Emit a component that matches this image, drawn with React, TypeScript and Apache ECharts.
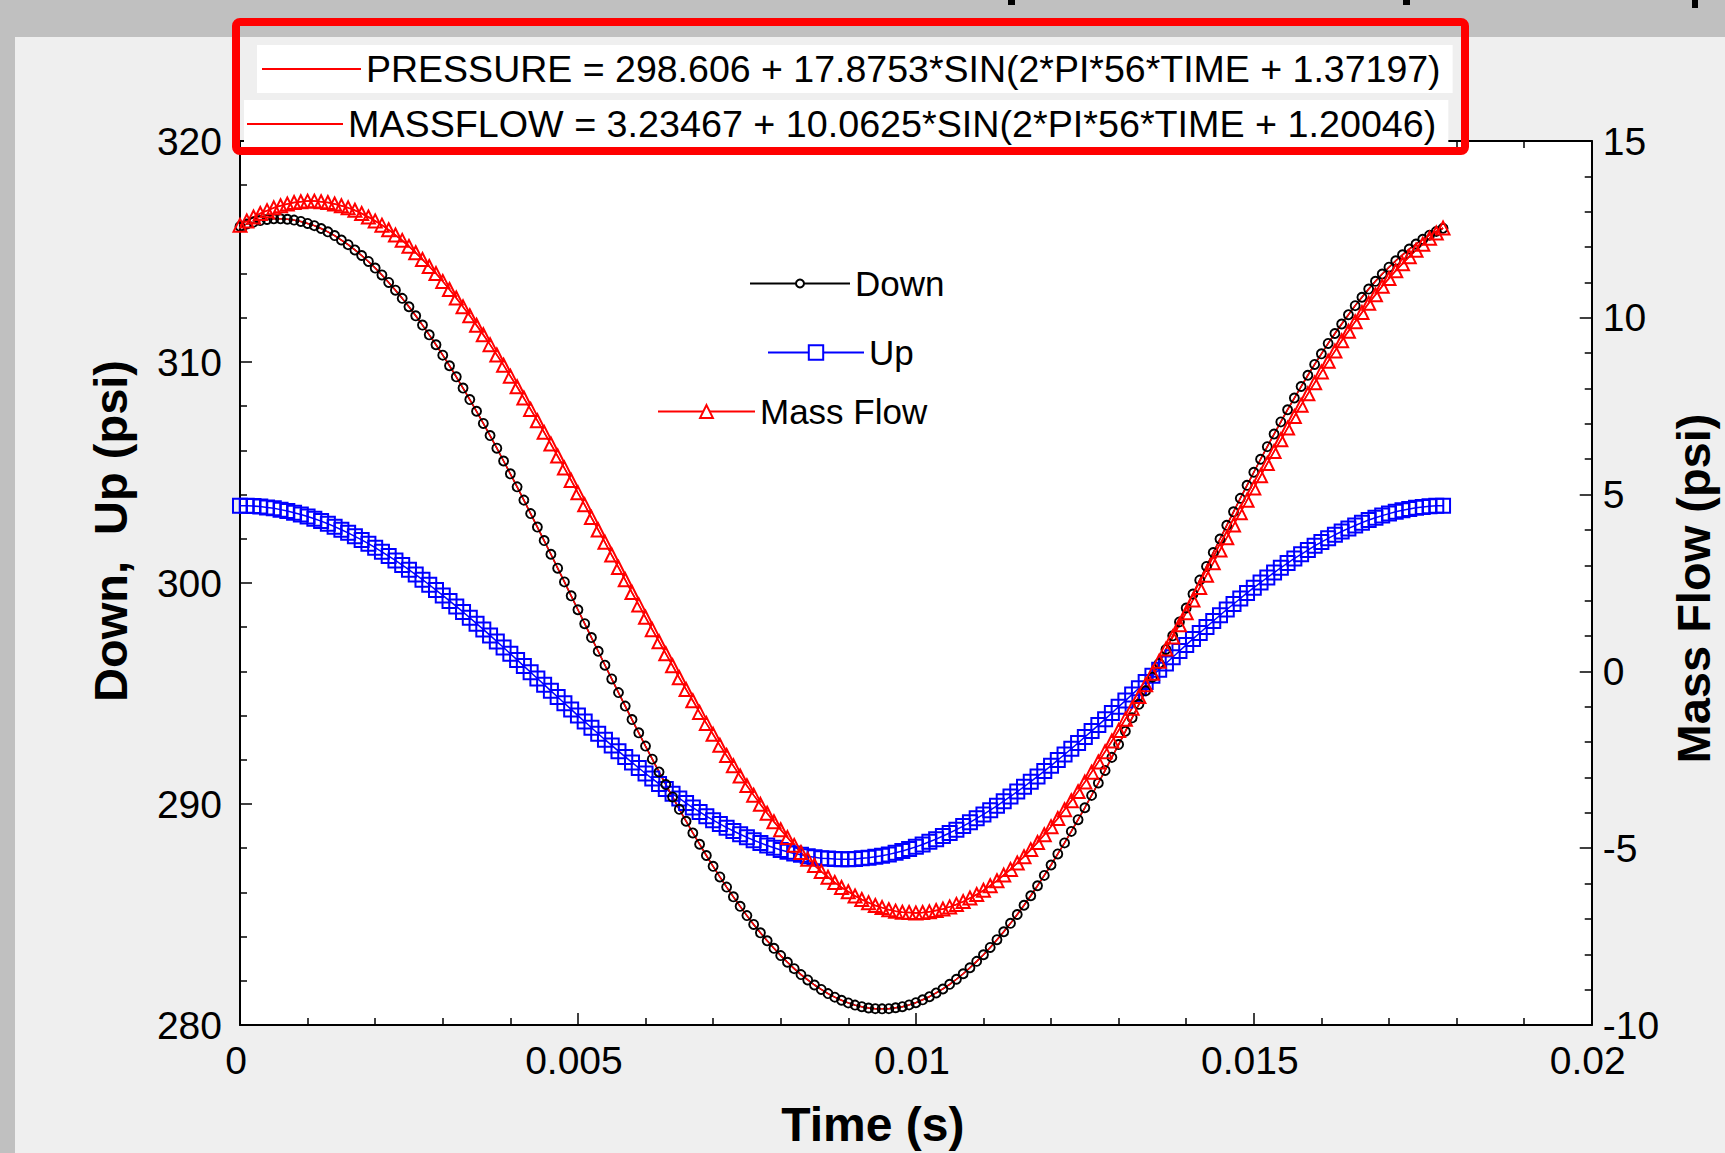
import React, { useEffect, useRef } from 'react';
import * as echarts from 'echarts';

// ---- data ----
const timeStepS = 0.0001; // sampling step of the measured points (s)

const downPsi = [
  316.13, 316.24, 316.33, 316.40, 316.45, 316.48, 316.48, 316.46, 316.42, 316.36,
  316.27, 316.17, 316.04, 315.89, 315.72, 315.52, 315.31, 315.07, 314.82, 314.55,
  314.25, 313.94, 313.60, 313.25, 312.88, 312.50, 312.09, 311.67, 311.23, 310.78,
  310.31, 309.83, 309.33, 308.82, 308.30, 307.77, 307.22, 306.67, 306.10, 305.52,
  304.94, 304.35, 303.75, 303.14, 302.53, 301.92, 301.30, 300.67, 300.05, 299.42,
  298.79, 298.16, 297.53, 296.91, 296.28, 295.66, 295.04, 294.43, 293.82, 293.22,
  292.62, 292.03, 291.45, 290.88, 290.32, 289.76, 289.22, 288.69, 288.18, 287.67,
  287.18, 286.70, 286.24, 285.80, 285.37, 284.95, 284.55, 284.17, 283.81, 283.47,
  283.14, 282.84, 282.55, 282.28, 282.04, 281.81, 281.61, 281.42, 281.26, 281.12,
  281.00, 280.90, 280.83, 280.77, 280.74, 280.73, 280.74, 280.78, 280.83, 280.91,
  281.01, 281.14, 281.28, 281.45, 281.63, 281.84, 282.07, 282.32, 282.59, 282.88,
  283.18, 283.51, 283.86, 284.22, 284.60, 285.00, 285.42, 285.85, 286.30, 286.77,
  287.24, 287.74, 288.24, 288.76, 289.29, 289.83, 290.39, 290.95, 291.52, 292.11,
  292.69, 293.29, 293.90, 294.51, 295.12, 295.74, 296.36, 296.99, 297.61, 298.24,
  298.87, 299.50, 300.13, 300.75, 301.38, 301.99, 302.61, 303.22, 303.83, 304.42,
  305.01, 305.60, 306.17, 306.74, 307.29, 307.84, 308.37, 308.89, 309.40, 309.89,
  310.37, 310.84, 311.29, 311.72, 312.14, 312.55, 312.93, 313.30, 313.65, 313.98,
  314.29, 314.58, 314.85, 315.11, 315.34, 315.55, 315.74, 315.91, 316.05,
];

const upPsi = [
  303.50, 303.50, 303.48, 303.46, 303.42, 303.38, 303.32, 303.26, 303.18, 303.10,
  303.01, 302.91, 302.80, 302.68, 302.55, 302.41, 302.27, 302.11, 301.95, 301.78,
  301.60, 301.41, 301.22, 301.02, 300.81, 300.60, 300.38, 300.15, 299.92, 299.68,
  299.44, 299.19, 298.94, 298.69, 298.43, 298.16, 297.90, 297.63, 297.35, 297.08,
  296.80, 296.52, 296.24, 295.96, 295.68, 295.40, 295.12, 294.84, 294.56, 294.28,
  294.00, 293.73, 293.45, 293.18, 292.91, 292.65, 292.39, 292.13, 291.88, 291.63,
  291.38, 291.15, 290.91, 290.68, 290.46, 290.25, 290.04, 289.84, 289.64, 289.45,
  289.27, 289.10, 288.93, 288.78, 288.63, 288.49, 288.36, 288.24, 288.12, 288.02,
  287.92, 287.84, 287.76, 287.70, 287.64, 287.59, 287.55, 287.53, 287.51, 287.50,
  287.50, 287.51, 287.54, 287.57, 287.61, 287.66, 287.72, 287.79, 287.87, 287.96,
  288.06, 288.17, 288.29, 288.41, 288.55, 288.69, 288.84, 289.00, 289.17, 289.35,
  289.53, 289.72, 289.92, 290.13, 290.34, 290.56, 290.78, 291.01, 291.25, 291.49,
  291.73, 291.99, 292.24, 292.50, 292.76, 293.03, 293.30, 293.57, 293.84, 294.12,
  294.40, 294.68, 294.96, 295.24, 295.52, 295.80, 296.08, 296.36, 296.64, 296.92,
  297.20, 297.47, 297.74, 298.01, 298.28, 298.54, 298.80, 299.05, 299.30, 299.55,
  299.79, 300.02, 300.25, 300.47, 300.69, 300.90, 301.11, 301.30, 301.49, 301.68,
  301.85, 302.02, 302.18, 302.33, 302.47, 302.60, 302.73, 302.85, 302.95, 303.05,
  303.14, 303.22, 303.29, 303.35, 303.40, 303.44, 303.47, 303.49, 303.50,
];

const massFlowPsi = [
  12.62, 12.74, 12.85, 12.95, 13.03, 13.11, 13.17, 13.22, 13.26, 13.28,
  13.30, 13.30, 13.28, 13.26, 13.22, 13.17, 13.11, 13.04, 12.95, 12.85,
  12.74, 12.62, 12.49, 12.34, 12.19, 12.02, 11.84, 11.65, 11.45, 11.25,
  11.03, 10.80, 10.56, 10.31, 10.06, 9.79, 9.52, 9.24, 8.95, 8.66,
  8.35, 8.05, 7.73, 7.41, 7.09, 6.76, 6.43, 6.09, 5.75, 5.40,
  5.05, 4.71, 4.35, 4.00, 3.65, 3.29, 2.94, 2.59, 2.23, 1.88,
  1.53, 1.18, 0.84, 0.50, 0.16, -0.18, -0.51, -0.83, -1.16, -1.47,
  -1.78, -2.09, -2.38, -2.67, -2.96, -3.23, -3.50, -3.76, -4.01, -4.25,
  -4.48, -4.70, -4.92, -5.12, -5.31, -5.49, -5.66, -5.82, -5.97, -6.11,
  -6.23, -6.35, -6.45, -6.54, -6.62, -6.68, -6.74, -6.78, -6.81, -6.82,
  -6.83, -6.82, -6.80, -6.76, -6.72, -6.66, -6.59, -6.51, -6.41, -6.31,
  -6.19, -6.06, -5.92, -5.76, -5.60, -5.42, -5.24, -5.04, -4.84, -4.62,
  -4.39, -4.16, -3.91, -3.66, -3.40, -3.13, -2.85, -2.56, -2.27, -1.97,
  -1.67, -1.35, -1.04, -0.71, -0.38, -0.05, 0.29, 0.63, 0.97, 1.32,
  1.66, 2.02, 2.37, 2.72, 3.07, 3.43, 3.78, 4.14, 4.49, 4.84,
  5.19, 5.53, 5.88, 6.22, 6.55, 6.88, 7.21, 7.53, 7.85, 8.16,
  8.47, 8.77, 9.06, 9.35, 9.62, 9.89, 10.15, 10.41, 10.65, 10.89,
  11.11, 11.33, 11.53, 11.73, 11.91, 12.08, 12.25, 12.40, 12.54,
];

const xTicks = { min: 0, max: 0.02, interval: 0.005 };
const leftTicks = { min: 280, max: 320, interval: 10 };
const rightTicks = { min: -10, max: 15, interval: 5 };

const pressureFitName = 'PRESSURE = 298.606 + 17.8753*SIN(2*PI*56*TIME + 1.37197)';
const massFlowFitName = 'MASSFLOW = 3.23467 + 10.0625*SIN(2*PI*56*TIME + 1.20046)';
const leftAxisTitle = 'Down,  Up (psi)';
const rightAxisTitle = 'Mass Flow (psi)';
const xAxisTitle = 'Time (s)';

const FONT = '"Liberation Sans", Arial, Helvetica, sans-serif';

const toPairs = (vals: number[]) =>
  vals.map((v, i) => [Number((i * timeStepS).toFixed(4)), v]);

const axisLineStyle = { color: '#000', width: 2 };
const tickStyle = { color: '#000', width: 1.5 };

function buildOption() {
  const transparent = 'rgba(255,255,255,0)';
  return {
    animation: false,
    backgroundColor: '#c0c0c0',
    textStyle: { fontFamily: FONT },
    grid: {
      left: 240, right: 127, top: 141, bottom: 127,
      show: true, backgroundColor: '#ffffff', borderWidth: 0,
    },
    graphic: [
      { type: 'rect', z: -10, silent: true, shape: { x: 15, y: 37, width: 1710, height: 1116 }, style: { fill: '#efefef' } },
      { type: 'rect', z: 100, silent: true, shape: { x: 1008, y: 0, width: 7, height: 5 }, style: { fill: '#000' } },
      { type: 'rect', z: 100, silent: true, shape: { x: 1403, y: 0, width: 7, height: 5 }, style: { fill: '#000' } },
      { type: 'rect', z: 100, silent: true, shape: { x: 1692, y: 0, width: 6, height: 8 }, style: { fill: '#000' } },
      {
        type: 'rect', z: 100, silent: true,
        shape: { x: 236, y: 22, width: 1229, height: 129, r: 4 },
        style: { fill: 'none', stroke: '#ff0000', lineWidth: 8 },
      },
    ],
    legend: [
      {
        data: [pressureFitName], left: 257, top: 45, padding: [5, 12, 5, 5],
        itemWidth: 99, itemHeight: 2, icon: 'rect', backgroundColor: '#ffffff',
        selectedMode: false, textStyle: { fontSize: 37.5, color: '#000', fontFamily: FONT },
      },
      {
        data: [massFlowFitName], left: 244, top: 100, padding: [5, 12, 5, 3],
        itemWidth: 96, itemHeight: 2, icon: 'rect', backgroundColor: '#ffffff',
        selectedMode: false, textStyle: { fontSize: 37.7, color: '#000', fontFamily: FONT },
      },
      {
        data: ['Down'], left: 749, top: 266, padding: 0, itemWidth: 100, itemHeight: 10,
        selectedMode: false, itemStyle: { color: '#ffffff' }, lineStyle: { width: 2 },
        textStyle: { fontSize: 35, color: '#000', fontFamily: FONT },
      },
      {
        data: ['Up'], left: 767, top: 335, padding: 0, itemWidth: 96, itemHeight: 18,
        selectedMode: false, itemStyle: { color: '#ffffff' }, lineStyle: { width: 2 },
        textStyle: { fontSize: 35, color: '#000', fontFamily: FONT },
      },
      {
        data: ['Mass Flow'], left: 657, top: 394, padding: 0, itemWidth: 97, itemHeight: 16,
        selectedMode: false, itemStyle: { color: '#ffffff' }, lineStyle: { width: 2 },
        textStyle: { fontSize: 35, color: '#000', fontFamily: FONT },
      },
    ],
    xAxis: [
      {
        type: 'value', position: 'bottom', ...xTicks,
        axisLine: { show: true, onZero: false, lineStyle: axisLineStyle },
        axisTick: { show: true, inside: true, length: 12, lineStyle: tickStyle },
        minorTick: { show: true, splitNumber: 5, length: 7, lineStyle: tickStyle },
        splitLine: { show: false },
        axisLabel: {
          fontSize: 39, color: '#000', margin: 16, fontFamily: FONT, padding: [0, 8, 0, 0],
          formatter: (v: number) => (v === 0 ? '0' : String(Number(v.toFixed(3)))),
        },
        name: xAxisTitle, nameLocation: 'middle', nameGap: 75,
        nameTextStyle: { fontSize: 48, fontWeight: 'bold', color: '#000', fontFamily: FONT, padding: [0, 86, 0, 0] },
      },
      {
        type: 'value', position: 'top', ...xTicks,
        axisLine: { show: true, onZero: false, lineStyle: axisLineStyle },
        axisTick: { show: true, inside: true, length: 12, lineStyle: tickStyle },
        minorTick: { show: true, splitNumber: 5, length: 7, lineStyle: tickStyle },
        splitLine: { show: false },
        axisLabel: { show: false },
      },
    ],
    yAxis: [
      {
        type: 'value', position: 'left', ...leftTicks,
        axisLine: { show: true, onZero: false, lineStyle: axisLineStyle },
        axisTick: { show: true, inside: true, length: 12, lineStyle: tickStyle },
        minorTick: { show: true, splitNumber: 5, length: 7, lineStyle: tickStyle },
        splitLine: { show: false },
        axisLabel: { fontSize: 39, color: '#000', margin: 18, fontFamily: FONT },
        name: leftAxisTitle, nameLocation: 'middle', nameRotate: 90, nameGap: 106,
        nameTextStyle: { fontSize: 47, fontWeight: 'bold', color: '#000', fontFamily: FONT, padding: [0, 0, 0, 104] },
      },
      {
        type: 'value', position: 'right', ...rightTicks,
        axisLine: { show: true, onZero: false, lineStyle: axisLineStyle },
        axisTick: { show: true, inside: true, length: 12, lineStyle: tickStyle },
        minorTick: { show: true, splitNumber: 5, length: 7, lineStyle: tickStyle },
        splitLine: { show: false },
        axisLabel: { fontSize: 39, color: '#000', margin: 11, fontFamily: FONT },
        name: rightAxisTitle, nameLocation: 'middle', nameRotate: 90, nameGap: 72,
        nameTextStyle: { fontSize: 47, fontWeight: 'bold', color: '#000', fontFamily: FONT, padding: [0, 11, 0, 0] },
      },
    ],
    series: [
      {
        name: 'Up', type: 'line', xAxisIndex: 0, yAxisIndex: 0, silent: true,
        data: toPairs(upPsi), symbol: 'rect', symbolSize: 14, showSymbol: true,
        itemStyle: { color: transparent, borderColor: '#0000ff', borderWidth: 2 },
        lineStyle: { color: '#0000ff', width: 1.5 },
      },
      {
        name: 'Down', type: 'line', xAxisIndex: 0, yAxisIndex: 0, silent: true,
        data: toPairs(downPsi), symbol: 'circle', symbolSize: 9, showSymbol: true,
        itemStyle: { color: transparent, borderColor: '#000000', borderWidth: 1.9 },
        lineStyle: { color: '#000000', width: 1.5 },
      },
      {
        name: 'Mass Flow', type: 'line', xAxisIndex: 0, yAxisIndex: 1, silent: true,
        data: toPairs(massFlowPsi), symbol: 'triangle', symbolSize: 13, showSymbol: true,
        itemStyle: { color: transparent, borderColor: '#ff0000', borderWidth: 2 },
        lineStyle: { color: '#ff0000', width: 1.5 },
      },
      {
        name: pressureFitName, type: 'line', xAxisIndex: 0, yAxisIndex: 0, silent: true,
        data: toPairs(downPsi), symbol: 'none', itemStyle: { color: '#ff0000' },
        lineStyle: { color: '#ff0000', width: 1.5 },
      },
      {
        name: massFlowFitName, type: 'line', xAxisIndex: 0, yAxisIndex: 1, silent: true,
        data: toPairs(massFlowPsi), symbol: 'none', itemStyle: { color: '#ff0000' },
        lineStyle: { color: '#ff0000', width: 1.5 },
      },
    ],
  };
}

export default function App() {
  const ref = useRef<HTMLDivElement>(null);
  useEffect(() => {
    if (!ref.current) return;
    const chart = echarts.init(ref.current, null, { renderer: 'svg' });
    chart.setOption(buildOption() as any);
    return () => chart.dispose();
  }, []);
  return (
    <div
      ref={ref}
      style={{ position: 'fixed', left: 0, top: 0, width: 1725, height: 1153 }}
    />
  );
}
